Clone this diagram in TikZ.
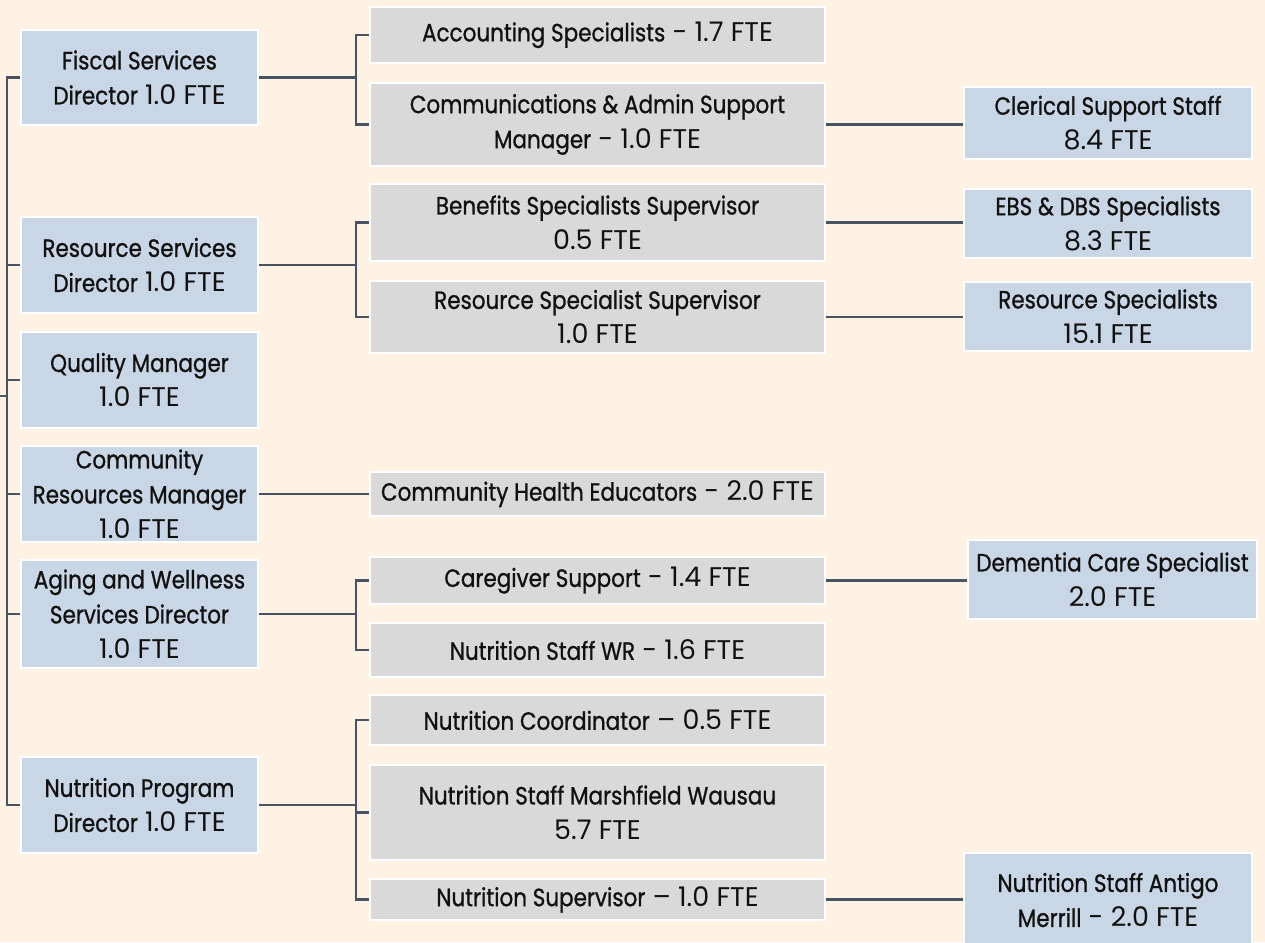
\documentclass[tikz,border=0pt]{standalone}
\usepackage{fontspec}
\setmainfont{Poppins}[Scale=1.08]
\newfontfamily\ttlfont{Poppins}[FakeStretch=0.86,FakeBold=0.9]
\newcommand{\T}[1]{{\ttlfont #1}}
\definecolor{bgpeach}{RGB}{253,242,228}
\definecolor{boxblue}{RGB}{200,214,229}
\definecolor{boxgray}{RGB}{217,217,217}
\definecolor{linecol}{RGB}{74,83,97}
\definecolor{txt}{RGB}{17,17,17}
\begin{document}
\begin{tikzpicture}[x=1pt,y=-1pt,
  box/.style={draw=white, line width=1.8pt, inner sep=0pt, align=center, text=txt,
    font=\fontsize{25}{35}\selectfont},
  bluebox/.style={box, fill=boxblue},
  graybox/.style={box, fill=boxgray},
  conn/.style={draw=linecol, line width=2.3pt}]
\fill[bgpeach] (0,0) rectangle (1265,942);
\useasboundingbox (0,0) rectangle (1265,942);

% left column
\node[bluebox, minimum width=237pt, minimum height=95pt] (fiscal) at (139.5,77.5) {\T{Fiscal Services}\\\T{Director} 1.0 FTE};
\node[bluebox, minimum width=237pt, minimum height=96pt] (resdir) at (139.5,265) {\T{Resource Services}\\\T{Director} 1.0 FTE};
\node[bluebox, minimum width=237pt, minimum height=96pt] (quality) at (139.5,380) {\T{Quality Manager}\\1.0 FTE};
\node[bluebox, minimum width=237pt, minimum height=96pt] (community) at (139.5,494) {\T{Community}\\\T{Resources Manager}\\1.0 FTE};
\node[bluebox, minimum width=237pt, minimum height=108pt] (aging) at (139.5,614) {\T{Aging and Wellness}\\\T{Services Director}\\1.0 FTE};
\node[bluebox, minimum width=237pt, minimum height=96pt] (nutdir) at (139.5,805) {\T{Nutrition Program}\\\T{Director} 1.0 FTE};

% middle column
\node[graybox, minimum width=455pt, minimum height=56pt] (acct) at (597.5,35) {\T{Accounting Specialists} - 1.7 FTE};
\node[graybox, minimum width=455pt, minimum height=83pt] (comm) at (597.5,124.5) {\T{Communications \& Admin Support}\\\T{Manager} - 1.0 FTE};
\node[graybox, minimum width=455pt, minimum height=77pt] (benefits) at (597.5,222.5) {\T{Benefits Specialists Supervisor}\\0.5 FTE};
\node[graybox, minimum width=455pt, minimum height=72pt] (ressup) at (597.5,317) {\T{Resource Specialist Supervisor}\\1.0 FTE};
\node[graybox, minimum width=455pt, minimum height=44pt] (che) at (597.5,494) {\T{Community Health Educators} - 2.0 FTE};
\node[graybox, minimum width=455pt, minimum height=47pt] (caregiver) at (597.5,580.5) {\T{Caregiver Support} - 1.4 FTE};
\node[graybox, minimum width=455pt, minimum height=54pt] (nswr) at (597.5,650) {\T{Nutrition Staff WR} - 1.6 FTE};
\node[graybox, minimum width=455pt, minimum height=50pt] (ncoord) at (597.5,720) {\T{Nutrition Coordinator} – 0.5 FTE};
\node[graybox, minimum width=455pt, minimum height=95pt] (marsh) at (597.5,812.5) {\T{Nutrition Staff Marshfield Wausau}\\5.7 FTE};
\node[graybox, minimum width=455pt, minimum height=41pt] (nsup) at (597.5,899.5) {\T{Nutrition Supervisor} – 1.0 FTE};

% right column
\node[bluebox, minimum width=288pt, minimum height=72pt] (clerical) at (1108,123) {\T{Clerical Support Staff}\\8.4 FTE};
\node[bluebox, minimum width=288pt, minimum height=69pt] (ebs) at (1108,223.5) {\T{EBS \& DBS Specialists}\\8.3 FTE};
\node[bluebox, minimum width=288pt, minimum height=69pt] (resspec) at (1108,316.5) {\T{Resource Specialists}\\15.1 FTE};
\node[bluebox, minimum width=289pt, minimum height=79pt] (dementia) at (1112.5,579.5) {\T{Dementia Care Specialist}\\2.0 FTE};
\node[bluebox, minimum width=288pt, minimum height=94pt] (antigo) at (1108,900) {\T{Nutrition Staff Antigo}\\\T{Merrill} - 2.0 FTE};

% helper coordinates
\coordinate (tx) at (7,0);
\coordinate (bx) at (356,0);
\coordinate (parent) at (0,396);

% trunk
\draw[conn] (fiscal.west) -- (fiscal.west -| tx) |- (nutdir.west);
\foreach \n in {resdir,quality,community,aging}
  \draw[conn] (\n.west) -- (\n.west -| tx);
\draw[conn] (parent) -- (parent -| tx);

% left to middle
\draw[conn] (fiscal.east) -- (fiscal.east -| bx);
\draw[conn] (acct.west) -- (acct.west -| bx) |- (comm.west);
\draw[conn] (resdir.east) -- (resdir.east -| bx);
\draw[conn] (benefits.west) -- (benefits.west -| bx) |- (ressup.west);
\draw[conn] (community.east) -- (che.west);
\draw[conn] (aging.east) -- (aging.east -| bx);
\draw[conn] (caregiver.west) -- (caregiver.west -| bx) |- (nswr.west);
\draw[conn] (nutdir.east) -- (nutdir.east -| bx);
\draw[conn] (ncoord.west) -- (ncoord.west -| bx) |- (nsup.west);
\draw[conn] (marsh.west) -- (marsh.west -| bx);

% middle to right
\draw[conn] (comm.east) -- (comm.east -| clerical.west);
\draw[conn] (benefits.east) -- (benefits.east -| ebs.west);
\draw[conn] (ressup.east) -- (ressup.east -| resspec.west);
\draw[conn] (caregiver.east) -- (caregiver.east -| dementia.west);
\draw[conn] (nsup.east) -- (nsup.east -| antigo.west);
\end{tikzpicture}
\end{document}
